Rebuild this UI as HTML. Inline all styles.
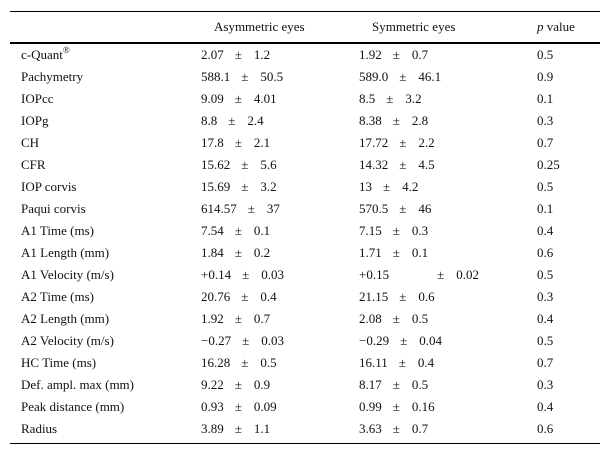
<!DOCTYPE html>
<html><head><meta charset="utf-8"><style>
body{margin:0;width:610px;height:457px;background:#fff;position:relative;font-family:"Liberation Serif",serif;font-size:13px;color:#111;overflow:hidden}
.line{position:absolute;left:10px;width:590px;background:#000}
.row{position:absolute;left:0;width:610px;height:22px;line-height:22px}
.c{position:absolute;top:0;white-space:nowrap}
.pm{margin:0 12px 0 11px}
sup{font-size:9px;line-height:0;vertical-align:6px}
</style></head><body>
<div class="line" style="top:11px;height:1px"></div>
<div class="row" style="top:16px">
<span class="c" style="left:214px">Asymmetric eyes</span>
<span class="c" style="left:372px">Symmetric eyes</span>
<span class="c" style="left:537px"><i>p</i> value</span>
</div>
<div class="line" style="top:42px;height:2px"></div>
<div id="body"></div>
<div class="line" style="top:443px;height:1px"></div>
<script>
const labels=["c-Quant<sup>®</sup>","Pachymetry","IOPcc","IOPg","CH","CFR","IOP corvis","Paqui corvis","A1 Time (ms)","A1 Length (mm)","A1 Velocity (m/s)","A2 Time (ms)","A2 Length (mm)","A2 Velocity (m/s)","HC Time (ms)","Def. ampl. max (mm)","Peak distance (mm)","Radius"];
const asymMean=["2.07","588.1","9.09","8.8","17.8","15.62","15.69","614.57","7.54","1.84","+0.14","20.76","1.92","−0.27","16.28","9.22","0.93","3.89"];
const asymSd=["1.2","50.5","4.01","2.4","2.1","5.6","3.2","37","0.1","0.2","0.03","0.4","0.7","0.03","0.5","0.9","0.09","1.1"];
const symMean=["1.92","589.0","8.5","8.38","17.72","14.32","13","570.5","7.15","1.71","+0.15","21.15","2.08","−0.29","16.11","8.17","0.99","3.63"];
const symSd=["0.7","46.1","3.2","2.8","2.2","4.5","4.2","46","0.3","0.1","0.02","0.6","0.5","0.04","0.4","0.5","0.16","0.7"];
const pvals=["0.5","0.9","0.1","0.3","0.7","0.25","0.5","0.1","0.4","0.6","0.5","0.3","0.4","0.5","0.7","0.3","0.4","0.6"];
const body=document.getElementById('body');
labels.forEach((l,i)=>{
 const r=document.createElement('div');
 r.className='row';
 
 
 r.style.top=(44+22*i)+'px';
 const symPm = i===10 ? '<span class="pm" style="margin-left:48px">±</span>' : '<span class="pm">±</span>';
 r.innerHTML=`<span class="c" style="left:21px">${l}</span>
<span class="c" style="left:201px">${asymMean[i]}<span class="pm">±</span>${asymSd[i]}</span>
<span class="c" style="left:359px">${symMean[i]}${symPm}${symSd[i]}</span>
<span class="c" style="left:537px">${pvals[i]}</span>`;
 body.appendChild(r);
});
</script>
</body></html>
